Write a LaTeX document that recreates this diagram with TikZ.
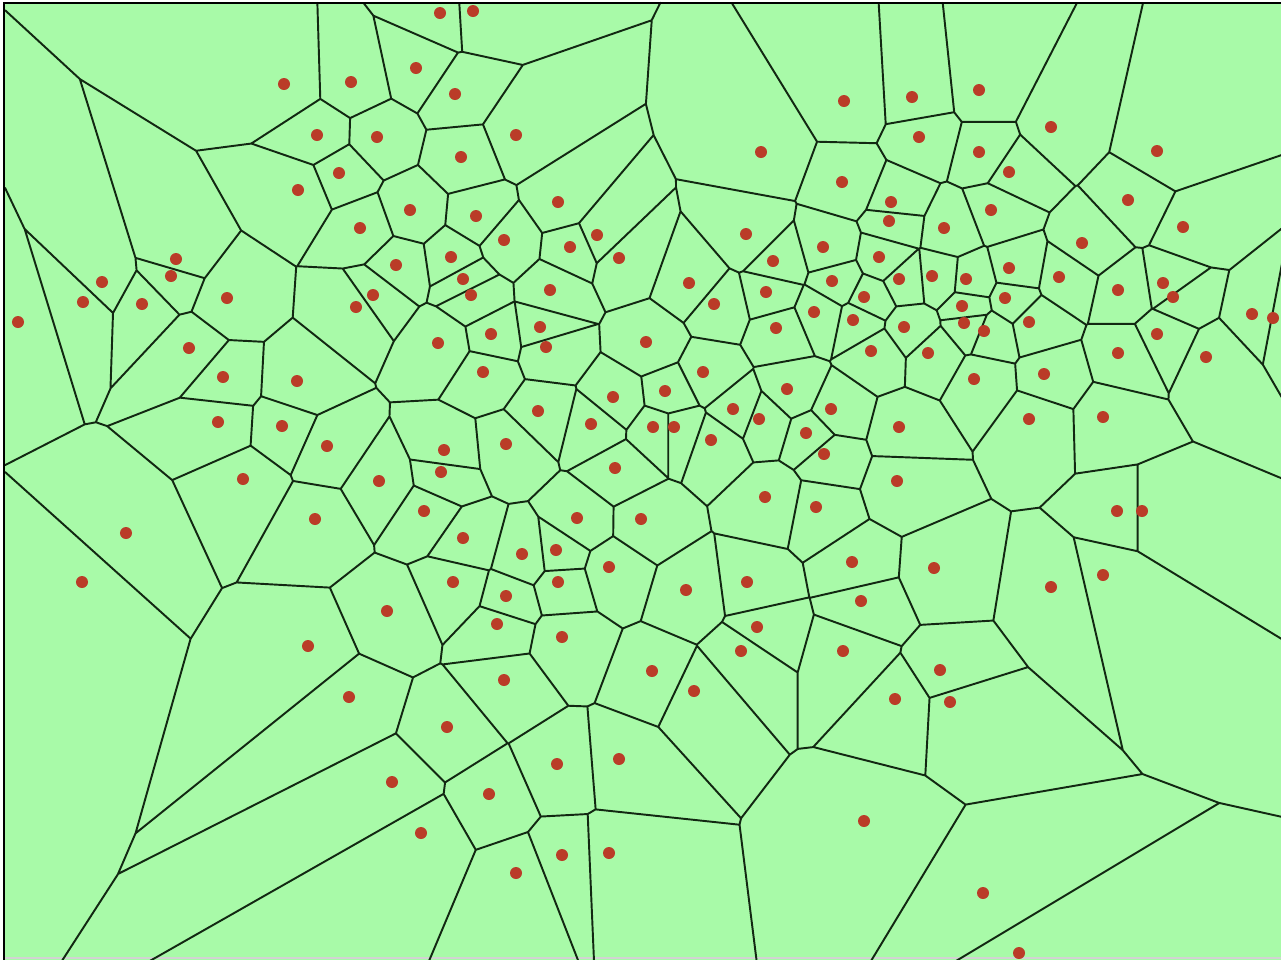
\documentclass[tikz,border=0pt]{standalone}
\definecolor{cellgreen}{RGB}{168,250,168}
\definecolor{seedred}{RGB}{186,60,40}
\definecolor{edgeink}{RGB}{18,40,18}

% seeds in pixels, x to the right, y downwards
\def\sitelist{440/13,473/11,416/68,284/84,351/82,455/94,317/135,377/137,516/135,461/157,
339/173,298/190,410/210,360/228,476/216,558/202,504/240,570/247,597/235,619/258,
451/257,396/265,463/279,471/295,373/295,356/307,176/259,171/276,102/282,83/302,
142/304,227/298,18/322,550/290,540/327,546/347,491/334,438/343,646/342,689/283,
714/304,746/234,773/261,823/247,766/292,832/281,814/312,776/328,853/320,761/152,
844/101,842/182,912/97,979/90,919/137,979/152,1051/127,1157/151,1009/172,891/202,
889/221,991/210,944/228,1128/200,1183/227,1082/243,879/257,899/279,932/276,966/279,
1009/268,1059/277,1118/290,1163/283,1173/297,864/297,904/327,962/306,964/323,984/331,
1005/298,1029/322,1252/314,1273/318,1157/334,189/348,223/377,297/381,218/422,282/426,
327/446,243/479,379/481,424/511,315/519,126/533,82/582,387/611,308/646,444/450,
441/472,483/372,613/397,665/391,703/372,538/411,591/424,653/427,674/427,733/409,
759/419,787/389,831/409,806/433,824/454,711/440,506/444,615/468,577/518,641/519,
765/497,816/507,463/538,522/554,556/550,609/567,453/582,506/596,558/582,686/590,
747/582,852/562,497/624,562/637,757/627,741/651,843/651,871/351,928/353,974/379,
1044/374,1118/353,1206/357,899/427,1029/419,1103/417,897/481,1117/511,1142/511,934/568,
861/601,1051/587,1103/575,349/697,392/782,421/833,652/671,694/691,504/680,447/727,
557/764,619/759,489/794,562/855,609/853,516/873,940/670,895/699,950/702,864/821,
983/893,1019/953}

\makeatletter
\newcount\vn \newcount\vi \newcount\vj \newcount\vk
\newcount\vxa \newcount\vya \newcount\vra
\newcount\vdx \newcount\vdy \newcount\vsx \newcount\vsy
\newcount\vex \newcount\vey \newcount\vA \newcount\vB \newcount\vC
\newcount\vlo \newcount\vhi
\def\gx#1{\csname vx@\the#1\endcsname}
\def\gy#1{\csname vy@\the#1\endcsname}
\def\gr#1{\csname vr@\the#1\endcsname}
\def\vadd#1/#2\@nil{\advance\vn\@ne
  \expandafter\edef\csname vx@\the\vn\endcsname{\the\numexpr#1-640\relax}%
  \expandafter\edef\csname vy@\the\vn\endcsname{\the\numexpr#2-480\relax}%
  \expandafter\edef\csname vr@\the\vn\endcsname{\the\numexpr(#1-640)*(#1-640)+(#2-480)*(#2-480)\relax}}
\@for\vitem:=\sitelist\do{\expandafter\vadd\vitem\@nil}
% one half-plane A + 2tB <= C on the bisector, t scaled by 256
\def\vbound{%
  \ifnum\vB>\z@
    \vC=\numexpr128*(\vC-\vA)/\vB\relax
    \ifnum\vC<\vhi \vhi=\vC \fi
  \else\ifnum\vB<\z@
    \vC=\numexpr128*(\vC-\vA)/\vB\relax
    \ifnum\vC>\vlo \vlo=\vC \fi
  \else\ifnum\vA>\vC \vhi=\vlo \fi
  \fi\fi}
\def\vclipk{%
  \ifnum\vk>\vn \let\vnextk\relax \else
    \ifnum\vk=\vi \else\ifnum\vk=\vj \else
      \vex=\numexpr(\gx\vk)-\vxa\relax
      \vey=\numexpr(\gy\vk)-\vya\relax
      \vA=\numexpr\vsx*\vex+\vsy*\vey\relax
      \vB=\numexpr\vdx*\vey-\vdy*\vex\relax
      \vC=\numexpr(\gr\vk)-\vra\relax
      \vbound
    \fi\fi
    \advance\vk\@ne
    \ifnum\vlo<\vhi \let\vnextk\vclipk \else \let\vnextk\relax \fi
  \fi\vnextk}
\def\vpair{%
  \vsx=\numexpr\vxa+(\gx\vj)\relax \vsy=\numexpr\vya+(\gy\vj)\relax
  \vlo=-1000000000 \vhi=1000000000
  \vA=-\vsx \vB=\vdy \vC=1270 \vbound
  \vA=\vsx \vB=-\vdy \vC=1282 \vbound
  \vA=-\vsy \vB=-\vdx \vC=954 \vbound
  \vA=\vsy \vB=\vdx \vC=960 \vbound
  \vk=\@ne \vclipk
  \ifnum\vlo<\vhi
    \edef\vpath{\vpath(\the\numexpr6400+(1280*\vsx-10*\vlo*\vdy)/256\relax,%
      \the\numexpr4800+(1280*\vsy+10*\vlo*\vdx)/256\relax)--%
      (\the\numexpr6400+(1280*\vsx-10*\vhi*\vdy)/256\relax,%
      \the\numexpr4800+(1280*\vsy+10*\vhi*\vdx)/256\relax)}%
  \fi}
\def\vloopj{%
  \ifnum\vj>\vn \let\vnextj\relax \else
    \vdx=\numexpr(\gx\vj)-\vxa\relax \vdy=\numexpr(\gy\vj)-\vya\relax
    \ifnum\numexpr\vdx*\vdx+\vdy*\vdy\relax<230400 \vpair\fi
    \advance\vj\@ne \let\vnextj\vloopj
  \fi\vnextj}
\def\vloopi{%
  \ifnum\vi>\vn \let\vnexti\relax \else
    \vxa=\gx\vi\relax \vya=\gy\vi\relax \vra=\gr\vi\relax
    \vj=\vi \advance\vj\@ne \vloopj
    \advance\vi\@ne \let\vnexti\vloopi
  \fi\vnexti}
\def\vpath{}
\vi=\@ne \vloopi
\makeatother

\begin{document}
\begin{tikzpicture}[x=0.01cm,y=-0.01cm,
    cell edge/.style={edgeink,line width=0.55pt,line cap=round},
    seed/.style={seedred}]
  \useasboundingbox (0,0) rectangle (1281,960);
  \fill[cellgreen] (4,3) rectangle (1281,960);
  \draw[gray!35,line width=0.8pt] (4,958) -- (1281,958);
  % cell walls, worked out in the preamble
  \begin{scope}[x=0.001cm,y=-0.001cm]
    \edef\vdraw{\noexpand\draw[cell edge] \vpath;}
    \vdraw
  \end{scope}
  \draw[line width=0.7pt] (4,960) -- (4,3) -- (1281,3);
  \foreach \sx/\sy in \sitelist
    \fill[seed] (\sx,\sy) circle (0.06cm);
\end{tikzpicture}
\end{document}
